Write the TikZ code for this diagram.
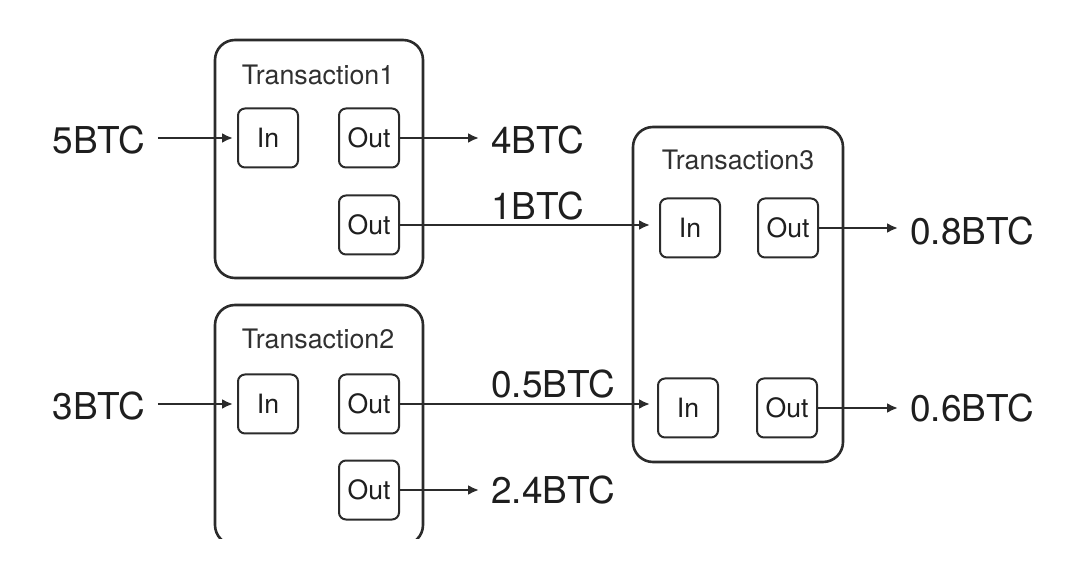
\documentclass[tikz,border=0pt]{standalone}
\usepackage{fontspec}
\setmainfont{TeX Gyre Heros}
\usetikzlibrary{arrows.meta}
\definecolor{inkgray}{HTML}{2B2B2B}
\definecolor{txtgray}{HTML}{1E1E1E}
\tikzset{
	txbox/.style={draw=inkgray,line width=1.3pt,rounded corners=10pt,
		minimum width=#1,inner sep=0pt},
	txtitle/.style={text=txtgray!92,font=\fontsize{13.4}{15}\selectfont},
	port/.style={draw=inkgray,line width=1pt,rounded corners=3.5pt,
		minimum width=30pt,minimum height=29.5pt,inner sep=0pt,
		text=txtgray,font=\fontsize{13.3}{15}\selectfont},
	amount/.style={text=txtgray,inner sep=6pt,font=\fontsize{18.5}{21}\selectfont},
	flow/.style={draw=inkgray,line width=1.1pt,-{Latex[length=5.5pt,width=5pt]}},
}
\begin{document}
\begin{tikzpicture}[x=0.5pt,y=-0.5pt]
	\useasboundingbox (0,0) rectangle (1080,576);
	
	% Transaction boxes
	\node[txbox=104pt,minimum height=119pt] (t1) at (319,159) {};
	\begin{scope}
		\clip (0,0) rectangle (1080,538); % bottom edge is cut off
		\node[txbox=104pt,minimum height=120pt] (t2) at (319,425) {};
	\end{scope}
	\node[txbox=105pt,minimum height=167.5pt] (t3) at (738,294.5) {};
	
	\node[txtitle] (t1title) at (318,75)  {Transaction1};
	\node[txtitle] (t2title) at (318,339) {Transaction2};
	\node[txtitle] (t3title) at (738,160) {Transaction3};
	
	% In / Out ports
	\node[port] (t1in)  at (268,138) {In};
	\node[port] (t1o1)  at (369,138) {Out};
	\node[port] (t1o2)  at (369,225) {Out};
	\node[port] (t2in)  at (268,404) {In};
	\node[port] (t2o1)  at (369,404) {Out};
	\node[port] (t2o2)  at (369,490) {Out};
	\node[port] (t3i1)  at (690,228) {In};
	\node[port] (t3o1)  at (788,228) {Out};
	\node[port] (t3i2)  at (688,408) {In};
	\node[port] (t3o2)  at (787,408) {Out};
	
	% Amounts
	\node[amount] (a5)  at (99,140) {5BTC};
	\node[amount] (a3)  at (99,406) {3BTC};
	\node[amount,anchor=west] (a4)  at (479,140) {4BTC};
	\node[amount,anchor=west] (a1)  at (479,206) {1BTC};
	\node[amount,anchor=west] (a05) at (479,384) {0.5BTC};
	\node[amount,anchor=west] (a24) at (479,490) {2.4BTC};
	\node[amount,anchor=west] (a08) at (898,231) {0.8BTC};
	\node[amount,anchor=west] (a06) at (898,408) {0.6BTC};
	
	% Flows
	\draw[flow,shorten >=2pt] (a5.east |- t1in) -- (t1in.west);
	\draw[flow,shorten >=2pt] (a3.east |- t2in) -- (t2in.west);
	\draw[flow] (t1o1.east) -- (a4.west |- t1o1);
	\draw[flow] (t2o2.east) -- (a24.west |- t2o2);
	\draw[flow,shorten >=4.5pt] (t1o2.east) -- (t1o2.east -| t3i1.west);
	\draw[flow,shorten >=3.5pt] (t2o1.east) -- (t2o1.east -| t3i2.west);
	\draw[flow] (t3o1.east) -- (a08.west |- t3o1);
	\draw[flow] (t3o2.east) -- (a06.west |- t3o2);
	
\end{tikzpicture}
\end{document}
